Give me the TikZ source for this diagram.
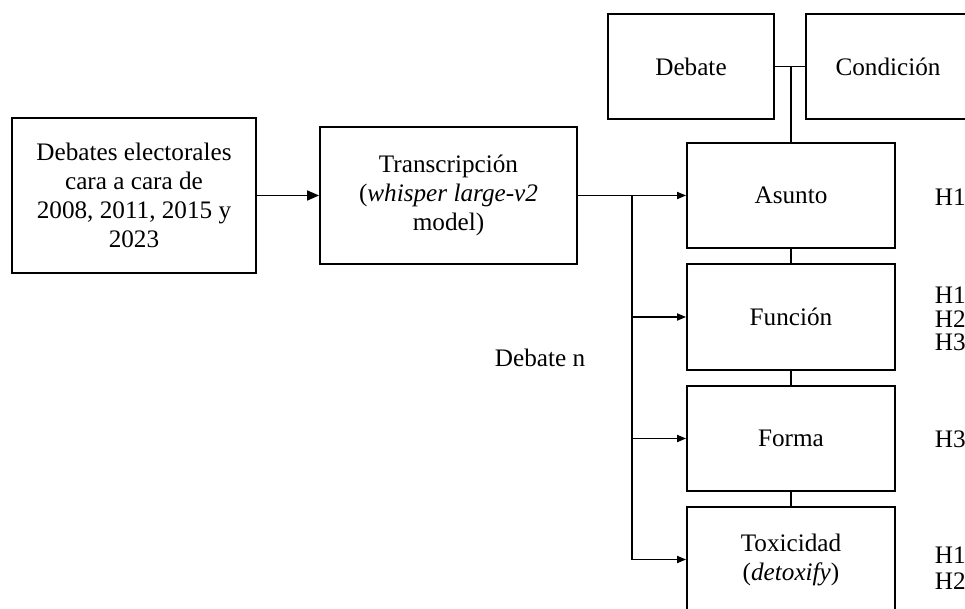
\documentclass[tikz,border=0pt]{standalone}
\usepackage{fontspec}
\setmainfont{Liberation Serif}
\usetikzlibrary{arrows.meta}

\tikzset{
  box/.style={draw, line width=0.9pt, align=center, inner sep=2pt,
    font=\fontsize{12.6}{14.5}\selectfont},
  hlabel/.style={align=left, inner sep=0pt, anchor=west,
    font=\fontsize{12.6}{11.75}\selectfont},
  bigarrow/.style={-{Triangle[length=6pt,width=5pt]}},
  smallarrow/.style={-{Triangle[length=4.5pt,width=3.5pt]}},
}

\begin{document}
\begin{tikzpicture}[x=0.5pt, y=-0.5pt, line width=0.85pt]
  \clip (0,0) rectangle (965,609);
  % Input and transcription
  \node[box, minimum width=122pt, minimum height=77.5pt] (data) at (134,195.5)
    {Debates electorales\\cara a cara de\\2008, 2011, 2015 y\\2023};
  \node[box, minimum width=128.5pt, minimum height=68.5pt] (transc) at (448.5,195.5)
    {Transcripción\\(\textit{whisper large-v2}\\model)};
  % Top boxes
  \node[box, minimum width=83pt, minimum height=52.5pt] (debate) at (691,66.5) {Debate};
  \node[box, minimum width=82pt, minimum height=52.5pt] (condicion) at (888,66.5) {Condición};
  % Analysis column
  \node[box, minimum width=104pt, minimum height=52.5pt] (asunto) at (791,195.5) {Asunto};
  \node[box, minimum width=104pt, minimum height=53pt] (funcion) at (791,317) {Función};
  \node[box, minimum width=104pt, minimum height=52.5pt] (forma) at (791,438.5) {Forma};
  \node[box, minimum width=104pt, minimum height=52.5pt] (toxic) at (791,559.5)
    {Toxicidad\\(\textit{detoxify})};
  \coordinate (split) at (632,195.5);
  % Straight arrows
  \draw[bigarrow] (data) -- (transc);
  \draw (transc) -- (split);
  \draw[smallarrow] (split) -- (asunto);
  \draw[smallarrow] (split) |- (funcion);
  \draw[smallarrow] (split) |- (forma);
  \draw[smallarrow] (split) |- (toxic);
  % Links
  \draw (debate) -- (condicion);
  \draw (asunto.north) -- (asunto.north |- debate.east);
  \draw (asunto) -- (funcion);
  \draw (funcion) -- (forma);
  \draw (forma) -- (toxic);
  % Labels
  \node[font=\fontsize{12.6}{14.5}\selectfont, anchor=base] (dn) at (540,367) {Debate n};
  \node[hlabel] (hasunto) at (934,197) {H1};
  \node[hlabel] (hfuncion) at (934,319) {H1\\H2\\H3};
  \node[hlabel] (hforma) at (934,439) {H3};
  \node[hlabel, font=\fontsize{12.6}{12.75}\selectfont] (htoxic) at (934,568) {H1\\H2};
\end{tikzpicture}
\end{document}
